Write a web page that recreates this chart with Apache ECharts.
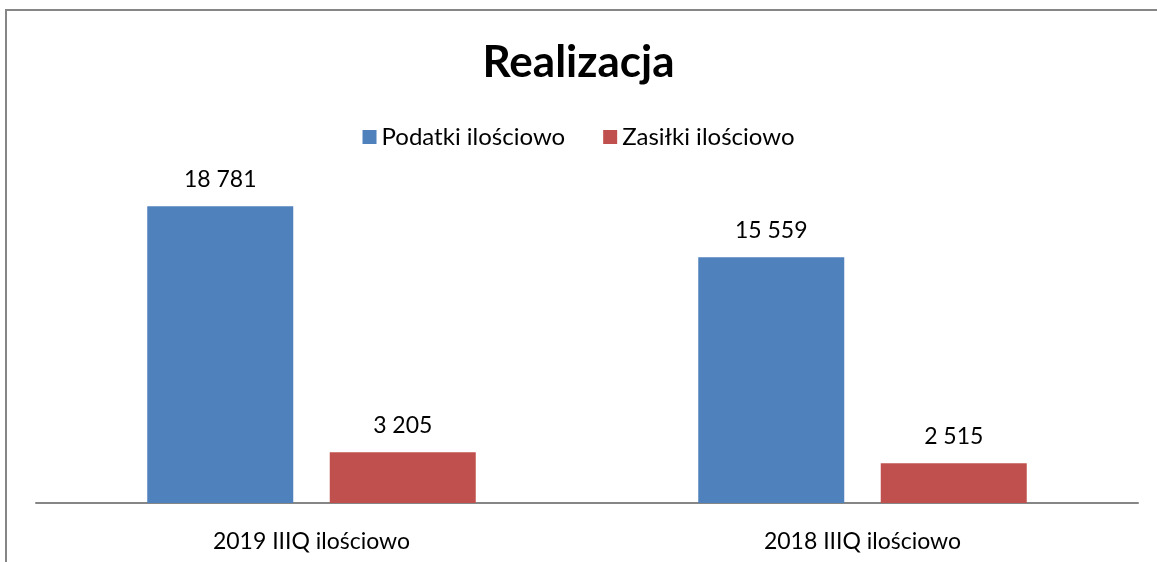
<!DOCTYPE html>
<html>
<head>
<meta charset="utf-8">
<script src="https://cdn.jsdelivr.net/npm/echarts@6/dist/echarts.min.js"></script>
<style>
  html, body { margin: 0; padding: 0; background: #fff; }
  #chart { width: 1157px; height: 562px; }
</style>
</head>
<body>
<div id="chart"></div>
<script>
const categories = ['2019 IIIQ ilościowo', '2018 IIIQ ilościowo'];
const podatki = [18781, 15559];
const zasilki = [3205, 2515];

function fmt(v) {
  return String(v).replace(/\B(?=(\d{3})+(?!\d))/g, ' ');
}

const chart = echarts.init(document.getElementById('chart'));

const labelStyle = {
  show: true,
  position: 'top',
  distance: 15,
  fontFamily: 'Lato',
  fontSize: 23,
  color: '#000',
  formatter: p => fmt(p.value)
};

chart.setOption({
  animation: false,
  textStyle: { fontFamily: 'Lato' },
  title: {
    text: 'Realizacja',
    left: 'center',
    top: 36,
    textStyle: { fontFamily: 'Lato', fontSize: 44, fontWeight: 'bold', color: '#000' }
  },
  legend: {
    top: 120,
    left: 'center',
    itemWidth: 14,
    itemHeight: 14,
    itemGap: 38,
    icon: 'rect',
    textStyle: { fontFamily: 'Lato', fontSize: 24, color: '#000' }
  },
  graphic: [
    {
      type: 'polyline',
      shape: { points: [[6, 562], [6, 10], [1157, 10]] },
      style: { stroke: '#868686', lineWidth: 2, fill: null }
    }
  ],
  grid: { left: 36, right: 19, top: 187, bottom: 59 },
  xAxis: {
    type: 'category',
    data: categories,
    axisLine: { lineStyle: { color: '#868686', width: 2 } },
    axisTick: { show: false },
    axisLabel: { fontFamily: 'Lato', fontSize: 23, color: '#000', margin: 27 }
  },
  yAxis: {
    type: 'value',
    min: 0,
    max: 20000,
    show: false,
    splitLine: { show: false }
  },
  series: [
    {
      name: 'Podatki ilościowo',
      type: 'bar',
      data: podatki,
      barWidth: 146,
      barGap: '25%',
      itemStyle: { color: '#4F81BD' },
      label: labelStyle
    },
    {
      name: 'Zasiłki ilościowo',
      type: 'bar',
      data: zasilki,
      barWidth: 146,
      itemStyle: { color: '#C0504D' },
      label: labelStyle
    }
  ]
});
</script>
</body>
</html>
